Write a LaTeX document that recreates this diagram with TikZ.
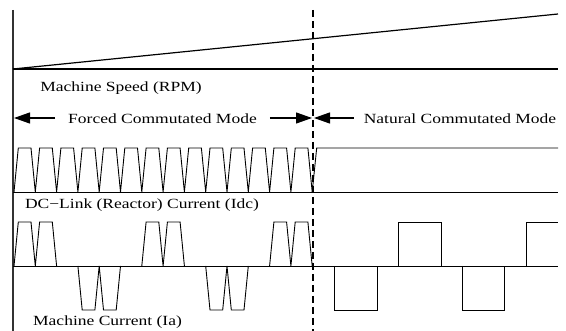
\documentclass[tikz,border=0pt]{standalone}
\usepackage{fontspec}
\setmainfont[FakeStretch=1.25]{Liberation Serif}
\usetikzlibrary{arrows.meta}
\begin{document}
\begin{tikzpicture}[x=1pt,y=-1pt,font=\fontsize{14}{16}\selectfont,
    wave/.style={line width=0.9pt,line join=miter},
    modearrow/.style={-{Triangle[length=16pt,width=11pt]},line width=1.2pt},
    tag/.style={anchor=base,inner sep=0pt}]
  \useasboundingbox (0,0) rectangle (566,331);
  % axes and switch-over line
  \coordinate (top) at (13,10);
  \coordinate (bot) at (13,331);
  \coordinate (s0) at (13,69);
  \coordinate (s1) at (558,69);
  \coordinate (r1) at (558,14);
  \coordinate (sw) at (313,10);
  \coordinate (swb) at (313,331);
  \draw[line width=1.5pt,black!80] (top) -- (bot);
  \draw[line width=1.2pt] (s0) -- (s1);
  \draw[line width=1.2pt] (s0) -- (r1);
  \draw[line width=2pt,dash pattern=on 7pt off 4pt] (sw) -- (swb);
  % labels
  \node[tag] (speed) at (121,92) {Machine Speed (RPM)};
  \node[tag,inner xsep=13pt] (forced) at (162.5,124) {Forced Commutated Mode};
  \node[tag,inner xsep=10pt] (natural) at (460,124) {Natural Commutated Mode};
  \node[tag] (idc) at (142,209) {DC−Link (Reactor) Current (Idc)};
  \node[tag] (ia) at (107.5,326) {Machine Current (Ia)};
  % mode arrows
  \coordinate (fl) at (14,118);
  \coordinate (fr) at (312,118);
  \coordinate (nl) at (314,118);
  \draw[modearrow] (fl -| forced.west) -- (fl);
  \draw[modearrow] (fl -| forced.east) -- (fr);
  \draw[modearrow] (fl -| natural.west) -- (nl);
  % DC-link current
  \draw[wave] (13,192) -- (558,192);
  \draw[wave] (14,192) foreach \k in {0,...,13} {
      -- ++(4.3,-44) -- ++(12.7,0) -- ++(4.3,44) }
    -- ++(4.5,-44) -- (558,148);
  % machine current
  \draw[wave] (13,266) -- (558,266);
  \foreach \s/\k in {1/0,-1/3,1/6,-1/9,1/12}
    \draw[wave] (14+21.3*\k,266) -- ++(4.3,-44*\s) -- ++(12.7,0) -- ++(4.3,44*\s)
      -- ++(4.3,-44*\s) -- ++(12.7,0) -- ++(4.3,44*\s);
  \foreach \s/\a/\b in {-1/334/377,1/398/441,-1/462/504}
    \draw[wave] (\a,266) -- ++(0,-44*\s) -- (\b,266-44*\s) -- (\b,266);
  \draw[wave] (526,266) -- (526,222) -- (558,222);
\end{tikzpicture}
\end{document}
